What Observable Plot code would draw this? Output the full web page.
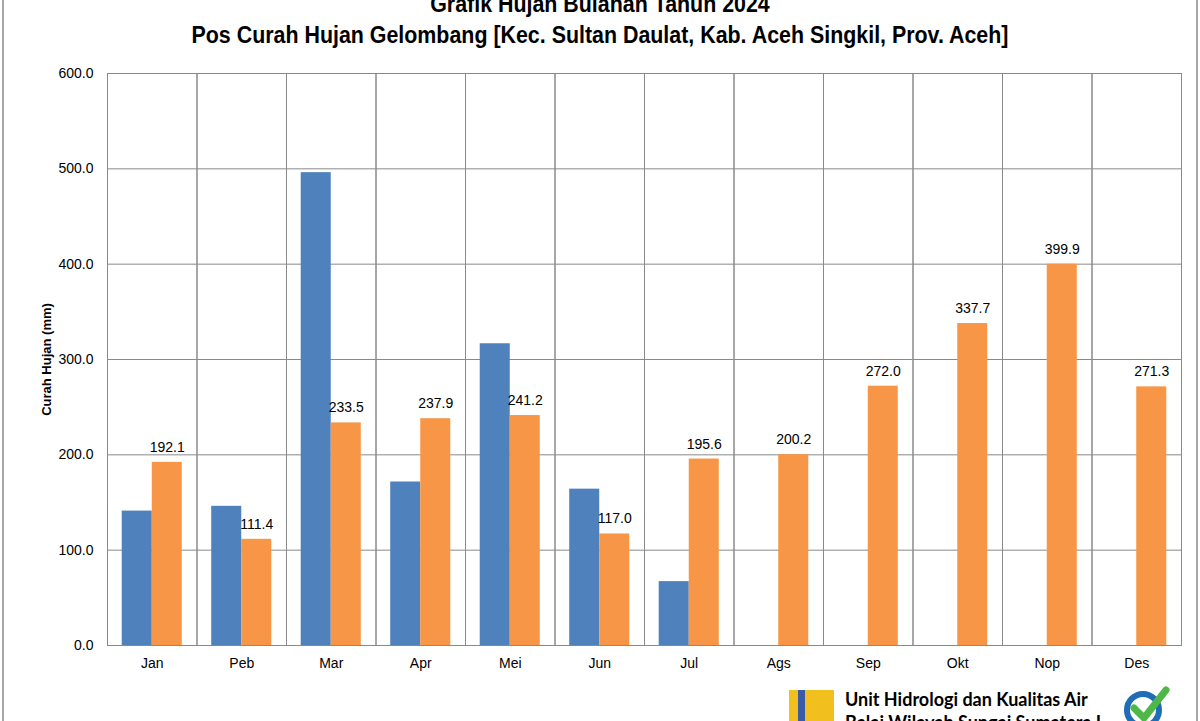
<!DOCTYPE html>
<html>
<head>
<meta charset="utf-8">
<script src="https://cdn.jsdelivr.net/npm/d3@7"></script>
<script src="https://cdn.jsdelivr.net/npm/@observablehq/plot@0.6"></script>
<style>
  html, body { margin: 0; padding: 0; background: #fff; }
  #wrap { position: relative; width: 1200px; height: 721px; overflow: hidden; background: #fff; }
  .title { position: absolute; left: 0; width: 1200px; text-align: center; font-family: "Liberation Sans", Arial, sans-serif; font-weight: bold; font-size: 23px; color: #000; white-space: nowrap; line-height: 26px; transform: scaleX(0.93); transform-origin: 600px 0; }
  #t1 { top: -9px; }
  #t2 { top: 22px; }
  #chart { position: absolute; left: 0; top: 60px; }
  #chart [aria-label="y-axis label"] text { font-weight: bold; font-size: 13px; }
  .bl { position: absolute; top: 0; width: 2px; height: 721px; background: #a6a6a6; }
  #footer { position: absolute; left: 780px; top: 684px; width: 420px; height: 40px; }
  .ft { position: absolute; left: 65px; font-family: Lato, "Open Sans", sans-serif; font-weight: bold; font-size: 18px; color: #000; white-space: nowrap; }
</style>
</head>
<body>
<div id="wrap">
  <div class="bl" style="left:2px"></div>
  <div class="bl" style="left:1196px"></div>
  <div class="title" id="t1">Grafik Hujan Bulanan Tahun 2024</div>
  <div class="title" id="t2">Pos Curah Hujan Gelombang [Kec. Sultan Daulat, Kab. Aceh Singkil, Prov. Aceh]</div>
  <div id="chart"></div>
  <div id="footer">
    <svg width="60" height="40" style="position:absolute;left:9px;top:6px">
      <rect x="0" y="0" width="45" height="40" fill="#F2C01E"/>
      <rect x="9" y="0" width="7" height="40" fill="#3C5BA7"/>
      <path d="M16,10 A10,10 0 0 1 16,30 Z" fill="#F2C01E"/>
      <rect x="26" y="0" width="19" height="40" fill="#F2C01E"/>
    </svg>
    <div class="ft" style="top:4px">Unit Hidrologi dan Kualitas Air</div>
    <div class="ft" style="top:27px">Balai Wilayah Sungai Sumatera I</div>
    <svg width="70" height="40" style="position:absolute;left:340px;top:0px">
      <circle cx="23" cy="26" r="16" fill="none" stroke="#1F6DB5" stroke-width="6"/>
      <path d="M14,24 L24,34 L46,6" fill="none" stroke="#4DB848" stroke-width="7" stroke-linecap="round" stroke-linejoin="round"/>
    </svg>
  </div>
</div>
<script>
const months = ["Jan","Peb","Mar","Apr","Mei","Jun","Jul","Ags","Sep","Okt","Nop","Des"];
const seriesNames = ["Tahun 2024", "Rata-rata"];
const valuesBlue = [141.0, 146.0, 496.0, 171.5, 316.5, 164.0, 67.0, null, null, null, null, null];
const valuesOrange = [192.1, 111.4, 233.5, 237.9, 241.2, 117.0, 195.6, 200.2, 272.0, 337.7, 399.9, 271.3];
const yTicks = [0, 100, 200, 300, 400, 500, 600];

const bars = [];
months.forEach((m, i) => {
  if (valuesBlue[i] != null) bars.push({month: m, series: seriesNames[0], value: valuesBlue[i]});
  if (valuesOrange[i] != null) bars.push({month: m, series: seriesNames[1], value: valuesOrange[i]});
});
const labels = bars.filter(d => d.series === seriesNames[1]);

const grid = "#898989";
const chart = Plot.plot({
  width: 1200,
  height: 661,
  marginTop: 13,
  marginBottom: 76,
  marginLeft: 107,
  marginRight: 19,
  style: {fontFamily: "'Liberation Sans', Arial, sans-serif", fontSize: "14px", color: "#000", background: "transparent", overflow: "visible"},
  fx: {domain: months, padding: 0, round: false, label: null},
  x: {domain: seriesNames, paddingInner: 0, paddingOuter: 0.49, round: false, axis: null},
  y: {domain: [0, 600]},
  color: {domain: seriesNames, range: ["#4F81BD", "#F79646"]},
  marks: [
    Plot.gridY(yTicks, {stroke: grid, strokeOpacity: 1, strokeWidth: 1}),
    Plot.frame({stroke: grid, strokeWidth: 1}),
    Plot.barY(bars, {fx: "month", x: "series", y: "value", fill: "series"}),
    Plot.text(labels, {fx: "month", x: "series", y: "value", text: d => d.value.toFixed(1), dy: -15, fontSize: 14}),
    Plot.axisY(yTicks, {tickFormat: d => d.toFixed(1), tickSize: 0, tickPadding: 14, fontSize: 14, label: "Curah Hujan (mm)", labelAnchor: "center", labelArrow: "none", labelOffset: 66}),
    Plot.axisFx({anchor: "bottom", tickSize: 0, tickPadding: 13, fontSize: 14, label: null})
  ]
});
document.getElementById("chart").appendChild(chart);
</script>
</body>
</html>
